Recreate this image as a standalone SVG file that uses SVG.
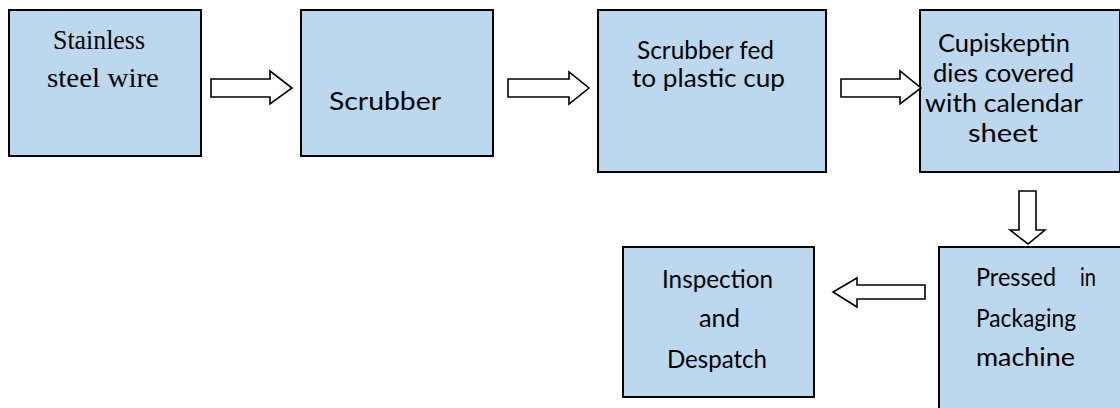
<svg xmlns="http://www.w3.org/2000/svg" width="1120" height="408" viewBox="0 0 1120 408">
<style>
.box{fill:#BDD7EE;stroke:#000;stroke-width:2}
.arr{fill:#fff;stroke:#000;stroke-width:1.6;stroke-linejoin:miter}
.c{font-family:Lato,"Open Sans","Liberation Sans",sans-serif;font-size:25.5px;fill:#000}
.t{font-family:"Liberation Serif","Times New Roman",serif;font-size:27px;fill:#000}
</style>
<rect width="1120" height="408" fill="#fff"/>
<g id="n1">
<rect class="box" x="9" y="10" width="192" height="146"/>
<text class="t" x="53" y="49" textLength="92" lengthAdjust="spacingAndGlyphs">Stainless</text>
<text class="t" x="47" y="87" textLength="112" lengthAdjust="spacingAndGlyphs">steel wire</text>
</g>
<g id="n2">
<rect class="box" x="301" y="10" width="192" height="146"/>
<text class="c" x="329" y="110" textLength="112" lengthAdjust="spacingAndGlyphs">Scrubber</text>
</g>
<g id="n3">
<rect class="box" x="598" y="10" width="228" height="162"/>
<text class="c" x="637" y="59" textLength="137" lengthAdjust="spacingAndGlyphs">Scrubber fed</text>
<text class="c" x="632" y="87" textLength="153" lengthAdjust="spacingAndGlyphs">to plastic cup</text>
</g>
<g id="n4">
<rect class="box" x="920" y="10" width="200" height="162"/>
<text class="c" x="938" y="52" textLength="132" lengthAdjust="spacingAndGlyphs">Cupiskeptin</text>
<text class="c" x="933" y="82" textLength="141" lengthAdjust="spacingAndGlyphs">dies covered</text>
<text class="c" x="925" y="112" textLength="158" lengthAdjust="spacingAndGlyphs">with calendar</text>
<text class="c" x="968" y="142" textLength="70" lengthAdjust="spacingAndGlyphs">sheet</text>
</g>
<g id="n5">
<rect class="box" x="939" y="247" width="190" height="170"/>
<text class="c" x="976" y="286" textLength="80" lengthAdjust="spacingAndGlyphs">Pressed</text>
<text class="c" x="1080" y="286" textLength="16" lengthAdjust="spacingAndGlyphs">in</text>
<text class="c" x="976" y="327" textLength="100" lengthAdjust="spacingAndGlyphs">Packaging</text>
<text class="c" x="976" y="366" textLength="99" lengthAdjust="spacingAndGlyphs">machine</text>
</g>
<g id="n6">
<rect class="box" x="623" y="247" width="191" height="150"/>
<text class="c" x="662" y="288" textLength="111" lengthAdjust="spacingAndGlyphs">Inspection</text>
<text class="c" x="699" y="327" textLength="41" lengthAdjust="spacingAndGlyphs">and</text>
<text class="c" x="667" y="368" textLength="100" lengthAdjust="spacingAndGlyphs">Despatch</text>
</g>
<g id="connectors">
<polygon class="arr" points="211,79 270,79 270,71 292,88 270,104 270,97 211,97"/>
<polygon class="arr" points="508,79 569,79 569,72 589,88 569,104 569,97 508,97"/>
<polygon class="arr" points="841,79 900,79 900,71 921,88 900,104 900,97 841,97"/>
<polygon class="arr" points="1019,191 1036,191 1036,230 1045,230 1028,244 1010,230 1019,230"/>
<polygon class="arr" points="925,285 857,285 857,278 833,292 857,307 857,299 925,299"/>
</g>
</svg>
